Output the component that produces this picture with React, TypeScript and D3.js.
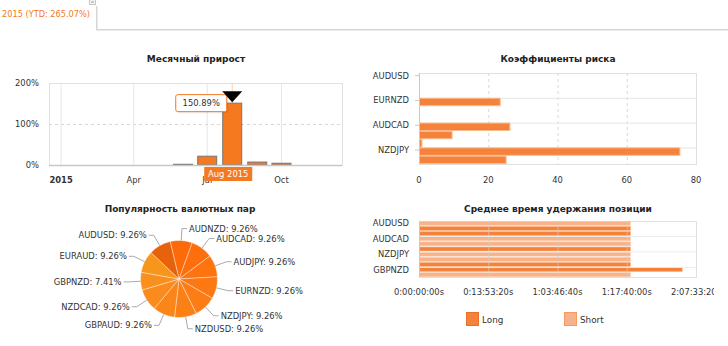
import React from 'react';
import * as d3 from 'd3';

const FONT = '"DejaVu Sans", Verdana, sans-serif';
const ORANGE = '#f47920';

// Header
const headerText = '2015 (YTD: 265.07%)';

// Chart 1: monthly growth
const monthlyTitle = 'Месячный прирост';
const monthDates = ['2015-06-01', '2015-07-01', '2015-08-01', '2015-09-01', '2015-10-01'];
const monthlyValues = [1.8, 21.5, 150.89, 7.2, 4.3];
const monthlyYTicks = [0, 100, 200];
const monthlyXTicks = ['2015-01-01', '2015-04-01', '2015-07-01', '2015-10-01'];
const monthlyXLabels = ['2015', 'Apr', 'Jul', 'Oct'];
const monthlyDomain = ['2014-12-17', '2015-12-15'];
const highlightIndex = 2;
const highlightLabel = 'Aug 2015';

// Chart 2: risk coefficients
const riskTitle = 'Коэффициенты риска';
const riskPairs = ['AUDUSD', 'EURAUD', 'GBPNZD', 'EURNZD', 'NZDCAD', 'GBPAUD', 'AUDCAD', 'AUDJPY', 'AUDNZD', 'NZDJPY', 'NZDUSD'];
const riskValues = [0, 0, 0, 23.3, 0, 0, 26.1, 9.4, 0.7, 75.2, 25.0];
const riskTicks = [0, 20, 40, 60, 80];

// Chart 3: pair popularity
const pieTitle = 'Популярность валютных пар';
const piePairs = ['AUDNZD', 'AUDCAD', 'AUDJPY', 'EURNZD', 'NZDJPY', 'NZDUSD', 'GBPAUD', 'NZDCAD', 'GBPNZD', 'EURAUD', 'AUDUSD'];
const pieValues = [9.26, 9.26, 9.26, 9.26, 9.26, 9.26, 9.26, 9.26, 7.41, 9.26, 9.26];
const pieColors = ['#fd6a0a', '#fd6f0d', '#fd7410', '#fc7812', '#fc7c15', '#fb8117', '#fa861a', '#fa8b1c', '#f9901e', '#f8951c', '#e6630c'];

// Chart 4: average holding time (seconds)
const holdTitle = 'Среднее время удержания позиции';
const holdPairs = ['AUDUSD', 'EURAUD', 'GBPAUD', 'AUDCAD', 'AUDNZD', 'EURNZD', 'NZDJPY', 'NZDCAD', 'AUDJPY', 'GBPNZD', 'NZDUSD'];
const holdLong = [null, 152300, 152300, null, null, 152300, null, null, 152300, 189700, null];
const holdShort = [152300, null, null, 152300, 152300, null, 152300, 152300, null, null, 152300];
const holdTicks = [0, 50000, 100000, 150000, 200000];
const legendNames = ['Long', 'Short'];
const LONG_C = '#f5823a';
const SHORT_C = '#f8b28a';

const utc = (s: string) => new Date(s + 'T00:00:00Z');
const pad = (n: number) => String(n).padStart(2, '0');
const fmtTime = (v: number) => {
  const d = Math.floor(v / 86400);
  const h = Math.floor((v % 86400) / 3600);
  const m = Math.floor((v % 3600) / 60);
  const s = Math.floor(v % 60);
  return `${d}:${pad(h)}:${pad(m)}:${pad(s)}s`;
};

const txt = { fontFamily: FONT, fontSize: 8.4, fill: '#333' } as const;
const title = { fontFamily: FONT, fontSize: 9, fontWeight: 'bold', fill: '#222' } as const;

function MonthlyChart() {
  const L = 49, R = 342, T = 83, B = 165;
  const x = d3.scaleUtc().domain(monthlyDomain.map(utc)).range([L, R]);
  const y = d3.scaleLinear().domain([0, 200]).range([B, T]);
  const bw = 19;
  const hx = x(utc(monthDates[highlightIndex]));
  const hy = y(monthlyValues[highlightIndex]);
  return (
    <g>
      <text x={196} y={59} textAnchor="middle" dominantBaseline="central" {...title}>{monthlyTitle}</text>
      {monthlyXTicks.map((t, i) => (
        <line key={i} x1={x(utc(t))} x2={x(utc(t))} y1={T} y2={B} stroke="#e6e6e6" />
      ))}
      <line x1={L} x2={R} y1={y(100) + 0.5} y2={y(100) + 0.5} stroke="#d8d8d8" strokeDasharray="3,3" />
      <rect x={L + 0.5} y={T + 0.5} width={R - L} height={B - T} fill="none" stroke="#e0e0e0" />
      <line x1={hx} x2={hx} y1={T} y2={B} stroke="#f9cdb0" />
      {monthDates.map((d, i) => {
        const cx = x(utc(d));
        const top = y(monthlyValues[i]);
        return (
          <rect key={i} x={cx - bw / 2} y={top} width={bw} height={B - top}
            fill={i === highlightIndex ? '#f57a1f' : ORANGE} stroke="#777" strokeWidth={1} />
        );
      })}
      <line x1={L} x2={R} y1={B + 0.5} y2={B + 0.5} stroke="#c8c8c8" strokeWidth={1.5} />
      {monthlyYTicks.map((t) => (
        <text key={t} x={39} y={y(t)} textAnchor="end" dominantBaseline="central" {...txt}>{t}%</text>
      ))}
      {monthlyXTicks.map((t, i) => (
        <text key={i} x={x(utc(t))} y={180} textAnchor="middle" dominantBaseline="central" {...txt}
          fontWeight={i === 0 ? 'bold' : 'normal'}>{monthlyXLabels[i]}</text>
      ))}
      {/* tooltip */}
      <rect x={hx - 55} y={hy - 7} width={51} height={17} rx={2} fill="#000" opacity={0.08} />
      <rect x={hx - 56.5} y={hy - 8.5} width={51} height={17} rx={2} fill="#fff" stroke={ORANGE} />
      <text x={hx - 31} y={hy} textAnchor="middle" dominantBaseline="central" {...txt}>
        {monthlyValues[highlightIndex].toFixed(2)}%
      </text>
      <path d={`M${hx - 10},${hy - 12} L${hx + 10},${hy - 12} L${hx},${hy - 1} Z`} fill="#000" />
      <rect x={hx - 28} y={B + 2} width={48} height={14} fill={ORANGE} />
      <text x={hx - 4} y={B + 9} textAnchor="middle" dominantBaseline="central" {...txt} fill="#fff">{highlightLabel}</text>
    </g>
  );
}

function RiskChart() {
  const L = 419, R = 696, T = 73, B = 164;
  const x = d3.scaleLinear().domain([0, 80]).range([L, R]);
  const y = d3.scaleBand().domain(riskPairs).range([T, B]).paddingInner(0.1).paddingOuter(0.05);
  const step = y.step();
  return (
    <g>
      <text x={558} y={59} textAnchor="middle" dominantBaseline="central" {...title}>{riskTitle}</text>
      {riskTicks.slice(1, -1).map((t) => (
        <line key={t} x1={x(t) + 0.5} x2={x(t) + 0.5} y1={T} y2={B} stroke="#d8d8d8" strokeDasharray="3,3" />
      ))}
      {riskPairs.map((p, i) => i % 3 === 0 && i > 0 ? (
        <line key={p} x1={L} x2={R} y1={T + i * step + 0.5} y2={T + i * step + 0.5} stroke="#e6e6e6" />
      ) : null)}
      <rect x={L + 0.5} y={T + 0.5} width={R - L} height={B - T} fill="none" stroke="#e0e0e0" />
      {riskPairs.map((p, i) => riskValues[i] > 0 ? (
        <rect key={p} x={L + 0.5} y={y(p)!} width={x(riskValues[i]) - L} height={y.bandwidth()}
          fill={LONG_C} stroke="#f9b98e" strokeWidth={1} />
      ) : null)}
      <line x1={L + 0.5} x2={L + 0.5} y1={T} y2={B} stroke="#c8c8c8" />
      {riskPairs.map((p, i) => i % 3 === 0 ? (
        <g key={p}>
          <line x1={L - 4} x2={L} y1={y(p)! + y.bandwidth() / 2 - 1.5} y2={y(p)! + y.bandwidth() / 2 - 1.5} stroke="#c8c8c8" />
          <text x={409} y={y(p)! + y.bandwidth() / 2 - 1.5} textAnchor="end" dominantBaseline="central" {...txt}>{p}</text>
        </g>
      ) : null)}
      {riskTicks.map((t) => (
        <text key={t} x={x(t)} y={180} textAnchor="middle" dominantBaseline="central" {...txt}>{t}</text>
      ))}
    </g>
  );
}

function PieChart() {
  const cx = 179, cy = 279, r = 38.5;
  const start = (-13.3 * Math.PI) / 180;
  const pie = d3.pie<number>().sort(null).startAngle(start).endAngle(start + 2 * Math.PI);
  const arcs = pie(pieValues);
  const arc = d3.arc<d3.PieArcDatum<number>>().innerRadius(0).outerRadius(r);
  return (
    <g>
      <text x={180} y={209} textAnchor="middle" dominantBaseline="central" {...title}>{pieTitle}</text>
      <g transform={`translate(${cx},${cy})`}>
        {arcs.map((a, i) => (
          <path key={i} d={arc(a)!} fill={pieColors[i]} stroke="#fff" strokeOpacity={0.55} strokeWidth={0.7} />
        ))}
      </g>
      {arcs.map((a, i) => {
        const m = (a.startAngle + a.endAngle) / 2;
        const sx = Math.sin(m), sy = -Math.cos(m);
        const ex = cx + r * sx, ey = cy + r * sy;
        const kx = cx + (r + 12) * sx, ky = cy + (r + 12) * sy;
        const right = sx >= 0;
        const hx = kx + (right ? 5 : -5);
        return (
          <g key={i}>
            <polyline points={`${ex},${ey} ${kx},${ky} ${hx},${ky}`} fill="none" stroke="#aaa" strokeWidth={1} />
            <text x={hx + (right ? 2 : -2)} y={ky} textAnchor={right ? 'start' : 'end'} dominantBaseline="central" {...txt}>
              {piePairs[i]}: {pieValues[i].toFixed(2)}%
            </text>
          </g>
        );
      })}
    </g>
  );
}

function HoldChart() {
  const L = 419, R = 696, T = 221, B = 277;
  const x = d3.scaleLinear().domain([0, 200000]).range([L, R]);
  const y = d3.scaleBand().domain(holdPairs).range([T, B]).paddingInner(0.22).paddingOuter(0.05);
  const step = y.step();
  return (
    <g>
      <defs>
        <clipPath id="holdClip"><rect x={360} y={190} width={354} height={156} /></clipPath>
      </defs>
      <text x={558} y={209} textAnchor="middle" dominantBaseline="central" {...title}>{holdTitle}</text>
      <rect x={L + 0.5} y={T + 0.5} width={R - L} height={B - T} fill="none" stroke="#e0e0e0" />
      {holdPairs.map((p, i) => {
        const items: any[] = [];
        const lv = holdLong[i], sv = holdShort[i];
        if (lv != null) items.push(
          <rect key="l" x={L + 0.5} y={y(p)!} width={x(lv) - L} height={y.bandwidth()} fill={LONG_C} stroke="#f9b98e" strokeWidth={0.6} />);
        if (sv != null) items.push(
          <rect key="s" x={L + 0.5} y={y(p)!} width={x(sv) - L} height={y.bandwidth()} fill={SHORT_C} stroke="#fbcfb2" strokeWidth={0.6} />);
        return <g key={p}>{items}</g>;
      })}
      {holdTicks.slice(1, -1).map((t) => (
        <line key={t} x1={x(t) + 0.5} x2={x(t) + 0.5} y1={T} y2={B} stroke="#d0d0d0" strokeOpacity={0.6} />
      ))}
      {holdPairs.map((p, i) => i % 3 === 0 && i > 0 ? (
        <line key={p} x1={L} x2={R} y1={T + i * step} y2={T + i * step} stroke="#ececec" />
      ) : null)}
      <line x1={L + 0.5} x2={L + 0.5} y1={T} y2={B} stroke="#c8c8c8" />
      {holdPairs.map((p, i) => i % 3 === 0 ? (
        <text key={p} x={409} y={y(p)! + y.bandwidth() / 2} textAnchor="end" dominantBaseline="central" {...txt}>{p}</text>
      ) : null)}
      <g clipPath="url(#holdClip)">
        {holdTicks.map((t) => (
          <text key={t} x={x(t)} y={292} textAnchor="middle" dominantBaseline="central" {...txt}>{fmtTime(t)}</text>
        ))}
      </g>
      {legendNames.map((n, i) => (
        <g key={n} transform={`translate(${466 + i * 98},312)`}>
          <rect x={0.5} y={0.5} width={12} height={13} fill={i === 0 ? LONG_C : SHORT_C} stroke={i === 0 ? '#e8702a' : '#f39a66'} />
          <text x={16} y={8} dominantBaseline="central" {...txt} fontSize={8.8}>{n}</text>
        </g>
      ))}
    </g>
  );
}

export default function App() {
  return (
    <svg width={728} height={346} style={{ position: 'absolute', left: 0, top: 0, background: '#fff' }}>
      <text x={2} y={14} dominantBaseline="central" fontFamily={FONT} fontSize={8.2} fill={ORANGE}>{headerText}</text>
      <line x1={96.75} x2={96.75} y1={6} y2={30} stroke="#d6d6d6" strokeWidth={1.5} />
      <line x1={96} x2={728} y1={29.75} y2={29.75} stroke="#d6d6d6" strokeWidth={1.5} />
      <rect x={89.5} y={-0.5} width={6} height={5} fill="#f4f4f4" stroke="#c8c8c8" />
      <line x1={91} x2={94} y1={2} y2={2} stroke="#999" />
      <MonthlyChart />
      <RiskChart />
      <PieChart />
      <HoldChart />
    </svg>
  );
}
